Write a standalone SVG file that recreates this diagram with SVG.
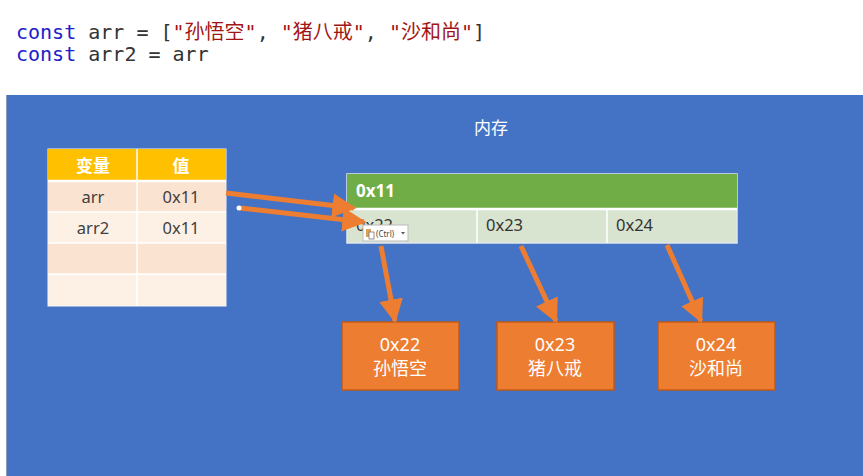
<svg xmlns="http://www.w3.org/2000/svg" width="863" height="476" viewBox="0 0 863 476">
<defs>
<style>
.code{font-family:"DejaVu Sans Mono","Noto Sans CJK SC",monospace;font-size:20px;fill:#333}
.kw{fill:#2020cc}
.str{fill:#a31515}
.t{font-family:"Noto Sans","Noto Sans CJK SC",sans-serif}
.th{font-size:17px;font-weight:bold;fill:#fff;text-anchor:middle}
.td{font-size:16.5px;fill:#404040;text-anchor:middle}
.mh{font-size:17px;font-weight:bold;fill:#fff}
.md{font-size:16.5px;fill:#333}
.ob{fill:#ED7D31;stroke:#C55A11;stroke-width:1.5}
.ot{font-size:18px;fill:#fff;text-anchor:middle}
.arr{stroke:#ED7D31;stroke-width:5;fill:none;marker-end:url(#ah)}
</style>
<marker id="ah" viewBox="0 0 10 10" refX="9" refY="5" markerWidth="4.8" markerHeight="5" orient="auto" markerUnits="strokeWidth">
<path d="M0,0 L10,5 L0,10 Z" fill="#ED7D31"/>
</marker>
</defs>
<rect width="863" height="476" fill="#fff"/>
<g id="code">
<text class="code" x="16" y="39" xml:space="preserve"><tspan class="kw">const</tspan> arr = [<tspan class="str">"孙悟空"</tspan>, <tspan class="str">"猪八戒"</tspan>, <tspan class="str">"沙和尚"</tspan>]</text>
<text class="code" x="16" y="61" xml:space="preserve"><tspan class="kw">const</tspan> arr2 = arr</text>
</g>
<g id="memory-bg">
<rect x="6" y="95" width="857" height="381" fill="#4472C4"/>
<line x1="6.5" y1="95" x2="6.5" y2="476" stroke="#8a9bb8" stroke-width="1"/>
<text class="t" x="491" y="134" font-size="17" fill="#fff" text-anchor="middle">内存</text>
</g>
<g id="var-table">
<rect x="48" y="149" width="178" height="157" fill="#FDF1E6" stroke="#f4f4f4" stroke-width="1"/>
<rect x="48" y="149" width="178" height="32" fill="#FFC000"/>
<rect x="48" y="181" width="178" height="31" fill="#FBE3D2"/>
<rect x="48" y="243" width="178" height="31" fill="#FBE3D2"/>
<g stroke="#fff" stroke-width="1.5">
<line x1="137" y1="149" x2="137" y2="306"/>
<line x1="48" y1="181" x2="226" y2="181" stroke-width="2.5"/>
<line x1="48" y1="212" x2="226" y2="212"/>
<line x1="48" y1="243" x2="226" y2="243"/>
<line x1="48" y1="274" x2="226" y2="274"/>
</g>
<text class="t th" x="93" y="172">变量</text>
<text class="t th" x="181" y="172">值</text>
<text class="t td" x="93" y="203">arr</text>
<text class="t td" x="181" y="203">0x11</text>
<text class="t td" x="93" y="234">arr2</text>
<text class="t td" x="181" y="234">0x11</text>
</g>
<g id="heap-array">
<rect x="347" y="174" width="390" height="69" fill="#D8E4D0" stroke="#dfe6ee" stroke-width="1.5"/>
<rect x="347" y="174" width="390" height="34" fill="#70AD47"/>
<line x1="347" y1="209" x2="737" y2="209" stroke="#fff" stroke-width="2.5"/>
<line x1="477" y1="210" x2="477" y2="243" stroke="#fff" stroke-width="1.5"/>
<line x1="607" y1="210" x2="607" y2="243" stroke="#fff" stroke-width="1.5"/>
<text class="t mh" x="356" y="197">0x11</text>
<text class="t md" x="356" y="231">0x22</text>
<text class="t md" x="486" y="231">0x23</text>
<text class="t md" x="616" y="231">0x24</text>
</g>
<g id="obj-0x22">
<rect class="ob" x="342" y="322" width="117" height="68"/>
<text class="t ot" x="400" y="351">0x22</text>
<text class="t ot" x="400" y="375">孙悟空</text>
</g>
<g id="obj-0x23">
<rect class="ob" x="497" y="322" width="117" height="68"/>
<text class="t ot" x="555" y="351">0x23</text>
<text class="t ot" x="555" y="375">猪八戒</text>
</g>
<g id="obj-0x24">
<rect class="ob" x="658" y="322" width="117" height="68"/>
<text class="t ot" x="716" y="351">0x24</text>
<text class="t ot" x="716" y="375">沙和尚</text>
</g>
<g id="connectors">
<line class="arr" x1="226" y1="193" x2="354" y2="208"/>
<line class="arr" x1="240" y1="208" x2="364" y2="222"/>
<line class="arr" x1="381" y1="246" x2="395" y2="321"/>
<line class="arr" x1="521" y1="246" x2="556" y2="321"/>
<line class="arr" x1="667" y1="245" x2="701" y2="321"/>
<circle cx="239" cy="208" r="2.5" fill="#fff"/>
</g>
<g id="paste-popup">
<rect x="363" y="225" width="45" height="16" fill="#fff" stroke="#bbb" stroke-width="1"/>
<rect x="366" y="229" width="5" height="8" fill="#d9a25a"/>
<rect x="369" y="232" width="5" height="7" fill="#fff" stroke="#777" stroke-width="0.8"/>
<text class="t" x="376" y="236.5" font-size="8" fill="#444">(Ctrl)</text>
<path d="M401,232 L405,232 L403,234.5 Z" fill="#555"/>
</g>
</svg>
